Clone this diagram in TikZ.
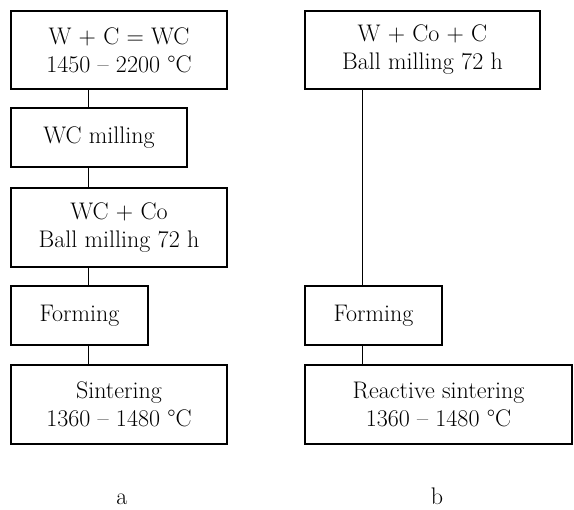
\documentclass[tikz,border=0pt]{standalone}
\usepackage{amsmath}
\usepackage{tikz}

\tikzset{
  stage/.style={draw, line width=1.2pt, align=center, inner sep=0pt},
  link/.style={line width=1.2pt}
}

\begin{document}
\begin{tikzpicture}[x=1pt, y=-1pt, font=\fontsize{24}{28}\selectfont]
      \useasboundingbox (0,0) rectangle (574,510);
      % route a
      \node[stage, minimum width=216, minimum height=78] (a1) at (119,50)
        {W + C = WC\\1450 -- 2200 \textdegree C};
      \node[stage, minimum width=176, minimum height=59] (a2) at (99,137.5)
        {WC milling};
      \node[stage, minimum width=216, minimum height=79] (a3) at (119,227.5)
        {WC + Co\\Ball milling 72 h};
      \node[stage, minimum width=137, minimum height=59] (a4) at (79.5,315.5)
        {Forming};
      \node[stage, minimum width=216, minimum height=79] (a5) at (119,404.5)
        {Sintering\\1360 -- 1480 \textdegree C};
      \draw[link] ([xshift=78]a1.south west) -- ([xshift=78]a2.north west);
      \draw[link] ([xshift=78]a2.south west) -- ([xshift=78]a3.north west);
      \draw[link] ([xshift=78]a3.south west) -- ([xshift=78]a4.north west);
      \draw[link] ([xshift=78]a4.south west) -- ([xshift=78]a5.north west);
      % route b
      \node[stage, minimum width=235, minimum height=78] (b1) at (422.5,50)
        {W + Co + C\\Ball milling 72 h};
      \node[stage, minimum width=137, minimum height=59] (b2) at (373.5,315.5)
        {Forming};
      \node[stage, minimum width=267, minimum height=79] (b3) at (438.5,404.5)
        {Reactive sintering\\1360 -- 1480 \textdegree C};
      \draw[link] ([xshift=58]b1.south west) -- ([xshift=58]b2.north west);
      \draw[link] ([xshift=58]b2.south west) -- ([xshift=58]b3.north west);
      % captions
      \node[anchor=base, inner sep=0pt] (capa) at (122,505) {a};
      \node[anchor=base, inner sep=0pt] (capb) at (437,505) {b};
    \end{tikzpicture}
\end{document}
